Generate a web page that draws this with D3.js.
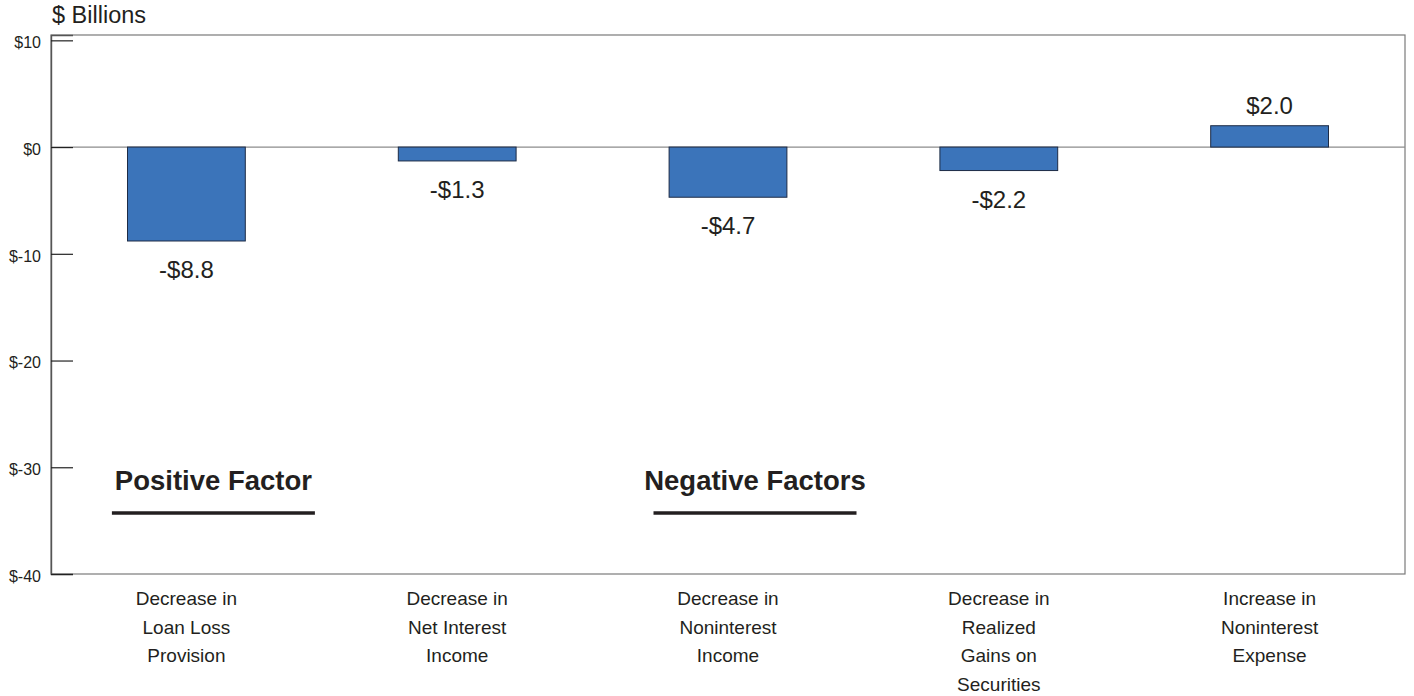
<!DOCTYPE html>
<html>
<head>
<meta charset="utf-8">
<script src="https://cdn.jsdelivr.net/npm/d3@7"></script>
<style>
  body { margin: 0; background: #fff; }
  svg { font-family: "Liberation Sans", Arial, sans-serif; }
</style>
</head>
<body>
<svg id="chart" width="1414" height="696"></svg>
<script>
// chart data
const categories = [
  ["Decrease in", "Loan Loss", "Provision"],
  ["Decrease in", "Net Interest", "Income"],
  ["Decrease in", "Noninterest", "Income"],
  ["Decrease in", "Realized", "Gains on", "Securities"],
  ["Increase in", "Noninterest", "Expense"]
];
const values = [-8.8, -1.3, -4.7, -2.2, 2.0];
const yTicks = [10, 0, -10, -20, -30, -40];
const groups = [
  { label: "Positive Factor", at: 0 },
  { label: "Negative Factors", at: 2 }
];

const svg = d3.select("#chart");
const plotLeft = 51, plotRight = 1405, plotTop = 35, plotBottom = 574;
const textColor = "#231f20";

const x = d3.scaleBand().domain(d3.range(values.length)).range([plotLeft, plotRight]).padding(0);
const y = d3.scaleLinear().domain([-40, 10.5]).range([plotBottom, plotTop]);
const barW = x.bandwidth() * 0.435;

// frame
svg.append("rect")
  .attr("x", plotLeft).attr("y", plotTop)
  .attr("width", plotRight - plotLeft).attr("height", plotBottom - plotTop)
  .attr("fill", "none").attr("stroke", "#7a7a7a").attr("stroke-width", 1.2);

// zero line
svg.append("line")
  .attr("x1", plotLeft).attr("x2", plotRight)
  .attr("y1", y(0)).attr("y2", y(0))
  .attr("stroke", "#8c8c8c").attr("stroke-width", 1.2);

// y axis with inward ticks
const yAxis = svg.append("g")
  .attr("transform", `translate(${plotLeft},0)`)
  .call(d3.axisLeft(y).tickValues(yTicks).tickSize(-22).tickPadding(10)
    .tickFormat(d => "$" + d));
yAxis.select(".domain").attr("stroke", "#555").attr("stroke-width", 1.4);
yAxis.selectAll(".tick line").attr("stroke", "#222").attr("stroke-width", 1.2);
yAxis.selectAll(".tick text")
  .attr("fill", textColor).attr("font-size", 16).attr("dy", "0.45em")
  .attr("font-family", "Liberation Sans, Arial, sans-serif");

// title
svg.append("text")
  .attr("x", 52).attr("y", 23)
  .attr("font-size", 23.5).attr("fill", textColor)
  .text("$ Billions");

// bars
svg.selectAll("rect.bar")
  .data(values)
  .enter()
  .append("rect")
  .attr("class", "bar")
  .attr("x", (d, i) => x(i) + (x.bandwidth() - barW) / 2)
  .attr("y", d => y(Math.max(0, d)))
  .attr("width", barW)
  .attr("height", d => Math.abs(y(d) - y(0)))
  .attr("fill", "#3b74ba")
  .attr("stroke", "#1d2b45")
  .attr("stroke-width", 1);

// value labels
svg.selectAll("text.val")
  .data(values)
  .enter()
  .append("text")
  .attr("class", "val")
  .attr("x", (d, i) => x(i) + x.bandwidth() / 2)
  .attr("y", d => d < 0 ? y(d) + 37 : y(d) - 12)
  .attr("text-anchor", "middle")
  .attr("font-size", 24)
  .attr("fill", textColor)
  .text(d => (d < 0 ? "-$" : "$") + Math.abs(d).toFixed(1));

// category labels
const cat = svg.selectAll("g.cat")
  .data(categories)
  .enter()
  .append("g")
  .attr("class", "cat");
cat.each(function(lines, i) {
  d3.select(this).selectAll("text")
    .data(lines)
    .enter()
    .append("text")
    .attr("x", x(i) + x.bandwidth() / 2)
    .attr("y", (d, j) => 605 + j * 28.7)
    .attr("text-anchor", "middle")
    .attr("font-size", 19)
    .attr("fill", textColor)
    .text(d => d);
});

// group headings
groups.forEach(g => {
  const cx = x(g.at) + x.bandwidth() / 2 + 27;
  svg.append("text")
    .attr("x", cx).attr("y", 490)
    .attr("text-anchor", "middle")
    .attr("font-size", 27.5).attr("font-weight", "bold")
    .attr("fill", textColor)
    .text(g.label);
  svg.append("line")
    .attr("x1", cx - 101.5).attr("x2", cx + 101.5)
    .attr("y1", 513).attr("y2", 513)
    .attr("stroke", textColor).attr("stroke-width", 3.5);
});
</script>
</body>
</html>
